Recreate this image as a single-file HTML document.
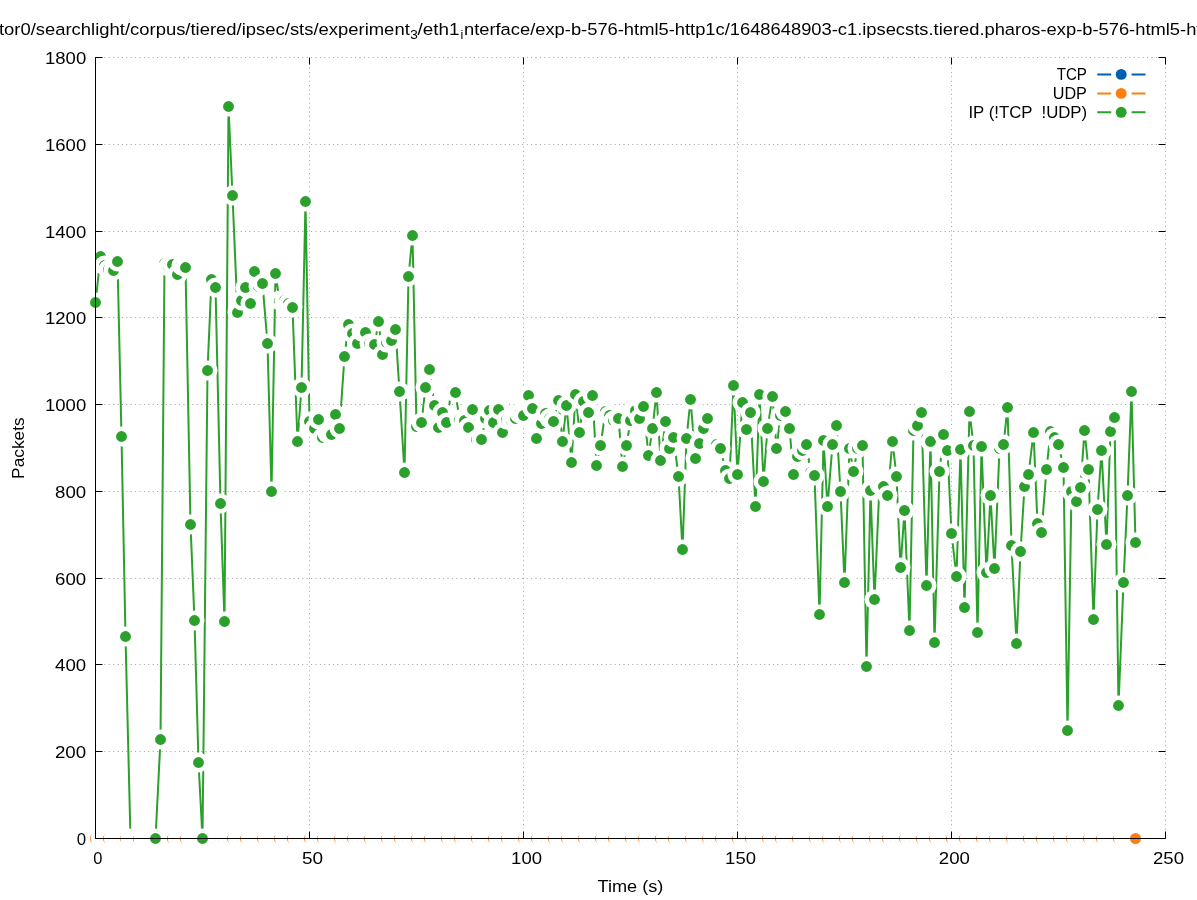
<!DOCTYPE html><html><head><meta charset="utf-8"><title>chart</title><style>html,body{margin:0;padding:0;background:#fff;overflow:hidden}svg{display:block;will-change:transform}text{font-family:"Liberation Sans",sans-serif;fill:#000}</style></head><body><svg width="1197" height="900" viewBox="0 0 1197 900"><rect width="1197" height="900" fill="#fff"/><path d="M95.5 751.5H1165.5 M95.5 664.5H1165.5 M95.5 578.5H1165.5 M95.5 491.5H1165.5 M95.5 404.5H1165.5 M95.5 317.5H1165.5 M95.5 231.5H1165.5 M95.5 144.5H1165.5 M95.5 57.5H1165.5 M309.5 838.5V57.5 M523.5 838.5V57.5 M737.5 838.5V57.5 M951.5 838.5V57.5 M1165.5 838.5V57.5" stroke="#a0a0a0" stroke-width="1" stroke-dasharray="1 3.4" fill="none"/><circle cx="95.5" cy="838.5" r="9.75" fill="#fff"/><circle cx="95.5" cy="838.5" r="5.5" fill="#ff7f0e"/><circle cx="100.5" cy="838.5" r="9.75" fill="#fff"/><circle cx="100.5" cy="838.5" r="5.5" fill="#ff7f0e"/><circle cx="104.5" cy="838.5" r="9.75" fill="#fff"/><circle cx="104.5" cy="838.5" r="5.5" fill="#ff7f0e"/><circle cx="108.5" cy="838.5" r="9.75" fill="#fff"/><circle cx="108.5" cy="838.5" r="5.5" fill="#ff7f0e"/><circle cx="113.5" cy="838.5" r="9.75" fill="#fff"/><circle cx="113.5" cy="838.5" r="5.5" fill="#ff7f0e"/><circle cx="117.5" cy="838.5" r="9.75" fill="#fff"/><circle cx="117.5" cy="838.5" r="5.5" fill="#ff7f0e"/><circle cx="121.5" cy="838.5" r="9.75" fill="#fff"/><circle cx="121.5" cy="838.5" r="5.5" fill="#ff7f0e"/><circle cx="125.5" cy="838.5" r="9.75" fill="#fff"/><circle cx="125.5" cy="838.5" r="5.5" fill="#ff7f0e"/><circle cx="130.5" cy="838.5" r="9.75" fill="#fff"/><circle cx="130.5" cy="838.5" r="5.5" fill="#ff7f0e"/><circle cx="134.5" cy="838.5" r="9.75" fill="#fff"/><circle cx="134.5" cy="838.5" r="5.5" fill="#ff7f0e"/><circle cx="138.5" cy="838.5" r="9.75" fill="#fff"/><circle cx="138.5" cy="838.5" r="5.5" fill="#ff7f0e"/><circle cx="143.5" cy="838.5" r="9.75" fill="#fff"/><circle cx="143.5" cy="838.5" r="5.5" fill="#ff7f0e"/><circle cx="147.5" cy="838.5" r="9.75" fill="#fff"/><circle cx="147.5" cy="838.5" r="5.5" fill="#ff7f0e"/><circle cx="151.5" cy="838.5" r="9.75" fill="#fff"/><circle cx="151.5" cy="838.5" r="5.5" fill="#ff7f0e"/><circle cx="155.5" cy="838.5" r="9.75" fill="#fff"/><circle cx="155.5" cy="838.5" r="5.5" fill="#ff7f0e"/><circle cx="160.5" cy="838.5" r="9.75" fill="#fff"/><circle cx="160.5" cy="838.5" r="5.5" fill="#ff7f0e"/><circle cx="164.5" cy="838.5" r="9.75" fill="#fff"/><circle cx="164.5" cy="838.5" r="5.5" fill="#ff7f0e"/><circle cx="168.5" cy="838.5" r="9.75" fill="#fff"/><circle cx="168.5" cy="838.5" r="5.5" fill="#ff7f0e"/><circle cx="172.5" cy="838.5" r="9.75" fill="#fff"/><circle cx="172.5" cy="838.5" r="5.5" fill="#ff7f0e"/><circle cx="177.5" cy="838.5" r="9.75" fill="#fff"/><circle cx="177.5" cy="838.5" r="5.5" fill="#ff7f0e"/><circle cx="181.5" cy="838.5" r="9.75" fill="#fff"/><circle cx="181.5" cy="838.5" r="5.5" fill="#ff7f0e"/><circle cx="185.5" cy="838.5" r="9.75" fill="#fff"/><circle cx="185.5" cy="838.5" r="5.5" fill="#ff7f0e"/><circle cx="190.5" cy="838.5" r="9.75" fill="#fff"/><circle cx="190.5" cy="838.5" r="5.5" fill="#ff7f0e"/><circle cx="194.5" cy="838.5" r="9.75" fill="#fff"/><circle cx="194.5" cy="838.5" r="5.5" fill="#ff7f0e"/><circle cx="198.5" cy="838.5" r="9.75" fill="#fff"/><circle cx="198.5" cy="838.5" r="5.5" fill="#ff7f0e"/><circle cx="202.5" cy="838.5" r="9.75" fill="#fff"/><circle cx="202.5" cy="838.5" r="5.5" fill="#ff7f0e"/><circle cx="207.5" cy="838.5" r="9.75" fill="#fff"/><circle cx="207.5" cy="838.5" r="5.5" fill="#ff7f0e"/><circle cx="211.5" cy="838.5" r="9.75" fill="#fff"/><circle cx="211.5" cy="838.5" r="5.5" fill="#ff7f0e"/><circle cx="215.5" cy="838.5" r="9.75" fill="#fff"/><circle cx="215.5" cy="838.5" r="5.5" fill="#ff7f0e"/><circle cx="220.5" cy="838.5" r="9.75" fill="#fff"/><circle cx="220.5" cy="838.5" r="5.5" fill="#ff7f0e"/><circle cx="224.5" cy="838.5" r="9.75" fill="#fff"/><circle cx="224.5" cy="838.5" r="5.5" fill="#ff7f0e"/><circle cx="228.5" cy="838.5" r="9.75" fill="#fff"/><circle cx="228.5" cy="838.5" r="5.5" fill="#ff7f0e"/><circle cx="232.5" cy="838.5" r="9.75" fill="#fff"/><circle cx="232.5" cy="838.5" r="5.5" fill="#ff7f0e"/><circle cx="237.5" cy="838.5" r="9.75" fill="#fff"/><circle cx="237.5" cy="838.5" r="5.5" fill="#ff7f0e"/><circle cx="241.5" cy="838.5" r="9.75" fill="#fff"/><circle cx="241.5" cy="838.5" r="5.5" fill="#ff7f0e"/><circle cx="245.5" cy="838.5" r="9.75" fill="#fff"/><circle cx="245.5" cy="838.5" r="5.5" fill="#ff7f0e"/><circle cx="250.5" cy="838.5" r="9.75" fill="#fff"/><circle cx="250.5" cy="838.5" r="5.5" fill="#ff7f0e"/><circle cx="254.5" cy="838.5" r="9.75" fill="#fff"/><circle cx="254.5" cy="838.5" r="5.5" fill="#ff7f0e"/><circle cx="258.5" cy="838.5" r="9.75" fill="#fff"/><circle cx="258.5" cy="838.5" r="5.5" fill="#ff7f0e"/><circle cx="262.5" cy="838.5" r="9.75" fill="#fff"/><circle cx="262.5" cy="838.5" r="5.5" fill="#ff7f0e"/><circle cx="267.5" cy="838.5" r="9.75" fill="#fff"/><circle cx="267.5" cy="838.5" r="5.5" fill="#ff7f0e"/><circle cx="271.5" cy="838.5" r="9.75" fill="#fff"/><circle cx="271.5" cy="838.5" r="5.5" fill="#ff7f0e"/><circle cx="275.5" cy="838.5" r="9.75" fill="#fff"/><circle cx="275.5" cy="838.5" r="5.5" fill="#ff7f0e"/><circle cx="279.5" cy="838.5" r="9.75" fill="#fff"/><circle cx="279.5" cy="838.5" r="5.5" fill="#ff7f0e"/><circle cx="284.5" cy="838.5" r="9.75" fill="#fff"/><circle cx="284.5" cy="838.5" r="5.5" fill="#ff7f0e"/><circle cx="288.5" cy="838.5" r="9.75" fill="#fff"/><circle cx="288.5" cy="838.5" r="5.5" fill="#ff7f0e"/><circle cx="292.5" cy="838.5" r="9.75" fill="#fff"/><circle cx="292.5" cy="838.5" r="5.5" fill="#ff7f0e"/><circle cx="297.5" cy="838.5" r="9.75" fill="#fff"/><circle cx="297.5" cy="838.5" r="5.5" fill="#ff7f0e"/><circle cx="301.5" cy="838.5" r="9.75" fill="#fff"/><circle cx="301.5" cy="838.5" r="5.5" fill="#ff7f0e"/><circle cx="305.5" cy="838.5" r="9.75" fill="#fff"/><circle cx="305.5" cy="838.5" r="5.5" fill="#ff7f0e"/><circle cx="309.5" cy="838.5" r="9.75" fill="#fff"/><circle cx="309.5" cy="838.5" r="5.5" fill="#ff7f0e"/><circle cx="314.5" cy="838.5" r="9.75" fill="#fff"/><circle cx="314.5" cy="838.5" r="5.5" fill="#ff7f0e"/><circle cx="318.5" cy="838.5" r="9.75" fill="#fff"/><circle cx="318.5" cy="838.5" r="5.5" fill="#ff7f0e"/><circle cx="322.5" cy="838.5" r="9.75" fill="#fff"/><circle cx="322.5" cy="838.5" r="5.5" fill="#ff7f0e"/><circle cx="327.5" cy="838.5" r="9.75" fill="#fff"/><circle cx="327.5" cy="838.5" r="5.5" fill="#ff7f0e"/><circle cx="331.5" cy="838.5" r="9.75" fill="#fff"/><circle cx="331.5" cy="838.5" r="5.5" fill="#ff7f0e"/><circle cx="335.5" cy="838.5" r="9.75" fill="#fff"/><circle cx="335.5" cy="838.5" r="5.5" fill="#ff7f0e"/><circle cx="339.5" cy="838.5" r="9.75" fill="#fff"/><circle cx="339.5" cy="838.5" r="5.5" fill="#ff7f0e"/><circle cx="344.5" cy="838.5" r="9.75" fill="#fff"/><circle cx="344.5" cy="838.5" r="5.5" fill="#ff7f0e"/><circle cx="348.5" cy="838.5" r="9.75" fill="#fff"/><circle cx="348.5" cy="838.5" r="5.5" fill="#ff7f0e"/><circle cx="352.5" cy="838.5" r="9.75" fill="#fff"/><circle cx="352.5" cy="838.5" r="5.5" fill="#ff7f0e"/><circle cx="357.5" cy="838.5" r="9.75" fill="#fff"/><circle cx="357.5" cy="838.5" r="5.5" fill="#ff7f0e"/><circle cx="361.5" cy="838.5" r="9.75" fill="#fff"/><circle cx="361.5" cy="838.5" r="5.5" fill="#ff7f0e"/><circle cx="365.5" cy="838.5" r="9.75" fill="#fff"/><circle cx="365.5" cy="838.5" r="5.5" fill="#ff7f0e"/><circle cx="369.5" cy="838.5" r="9.75" fill="#fff"/><circle cx="369.5" cy="838.5" r="5.5" fill="#ff7f0e"/><circle cx="374.5" cy="838.5" r="9.75" fill="#fff"/><circle cx="374.5" cy="838.5" r="5.5" fill="#ff7f0e"/><circle cx="378.5" cy="838.5" r="9.75" fill="#fff"/><circle cx="378.5" cy="838.5" r="5.5" fill="#ff7f0e"/><circle cx="382.5" cy="838.5" r="9.75" fill="#fff"/><circle cx="382.5" cy="838.5" r="5.5" fill="#ff7f0e"/><circle cx="386.5" cy="838.5" r="9.75" fill="#fff"/><circle cx="386.5" cy="838.5" r="5.5" fill="#ff7f0e"/><circle cx="391.5" cy="838.5" r="9.75" fill="#fff"/><circle cx="391.5" cy="838.5" r="5.5" fill="#ff7f0e"/><circle cx="395.5" cy="838.5" r="9.75" fill="#fff"/><circle cx="395.5" cy="838.5" r="5.5" fill="#ff7f0e"/><circle cx="399.5" cy="838.5" r="9.75" fill="#fff"/><circle cx="399.5" cy="838.5" r="5.5" fill="#ff7f0e"/><circle cx="404.5" cy="838.5" r="9.75" fill="#fff"/><circle cx="404.5" cy="838.5" r="5.5" fill="#ff7f0e"/><circle cx="408.5" cy="838.5" r="9.75" fill="#fff"/><circle cx="408.5" cy="838.5" r="5.5" fill="#ff7f0e"/><circle cx="412.5" cy="838.5" r="9.75" fill="#fff"/><circle cx="412.5" cy="838.5" r="5.5" fill="#ff7f0e"/><circle cx="416.5" cy="838.5" r="9.75" fill="#fff"/><circle cx="416.5" cy="838.5" r="5.5" fill="#ff7f0e"/><circle cx="421.5" cy="838.5" r="9.75" fill="#fff"/><circle cx="421.5" cy="838.5" r="5.5" fill="#ff7f0e"/><circle cx="425.5" cy="838.5" r="9.75" fill="#fff"/><circle cx="425.5" cy="838.5" r="5.5" fill="#ff7f0e"/><circle cx="429.5" cy="838.5" r="9.75" fill="#fff"/><circle cx="429.5" cy="838.5" r="5.5" fill="#ff7f0e"/><circle cx="434.5" cy="838.5" r="9.75" fill="#fff"/><circle cx="434.5" cy="838.5" r="5.5" fill="#ff7f0e"/><circle cx="438.5" cy="838.5" r="9.75" fill="#fff"/><circle cx="438.5" cy="838.5" r="5.5" fill="#ff7f0e"/><circle cx="442.5" cy="838.5" r="9.75" fill="#fff"/><circle cx="442.5" cy="838.5" r="5.5" fill="#ff7f0e"/><circle cx="446.5" cy="838.5" r="9.75" fill="#fff"/><circle cx="446.5" cy="838.5" r="5.5" fill="#ff7f0e"/><circle cx="451.5" cy="838.5" r="9.75" fill="#fff"/><circle cx="451.5" cy="838.5" r="5.5" fill="#ff7f0e"/><circle cx="455.5" cy="838.5" r="9.75" fill="#fff"/><circle cx="455.5" cy="838.5" r="5.5" fill="#ff7f0e"/><circle cx="459.5" cy="838.5" r="9.75" fill="#fff"/><circle cx="459.5" cy="838.5" r="5.5" fill="#ff7f0e"/><circle cx="464.5" cy="838.5" r="9.75" fill="#fff"/><circle cx="464.5" cy="838.5" r="5.5" fill="#ff7f0e"/><circle cx="468.5" cy="838.5" r="9.75" fill="#fff"/><circle cx="468.5" cy="838.5" r="5.5" fill="#ff7f0e"/><circle cx="472.5" cy="838.5" r="9.75" fill="#fff"/><circle cx="472.5" cy="838.5" r="5.5" fill="#ff7f0e"/><circle cx="476.5" cy="838.5" r="9.75" fill="#fff"/><circle cx="476.5" cy="838.5" r="5.5" fill="#ff7f0e"/><circle cx="481.5" cy="838.5" r="9.75" fill="#fff"/><circle cx="481.5" cy="838.5" r="5.5" fill="#ff7f0e"/><circle cx="485.5" cy="838.5" r="9.75" fill="#fff"/><circle cx="485.5" cy="838.5" r="5.5" fill="#ff7f0e"/><circle cx="489.5" cy="838.5" r="9.75" fill="#fff"/><circle cx="489.5" cy="838.5" r="5.5" fill="#ff7f0e"/><circle cx="493.5" cy="838.5" r="9.75" fill="#fff"/><circle cx="493.5" cy="838.5" r="5.5" fill="#ff7f0e"/><circle cx="498.5" cy="838.5" r="9.75" fill="#fff"/><circle cx="498.5" cy="838.5" r="5.5" fill="#ff7f0e"/><circle cx="502.5" cy="838.5" r="9.75" fill="#fff"/><circle cx="502.5" cy="838.5" r="5.5" fill="#ff7f0e"/><circle cx="506.5" cy="838.5" r="9.75" fill="#fff"/><circle cx="506.5" cy="838.5" r="5.5" fill="#ff7f0e"/><circle cx="511.5" cy="838.5" r="9.75" fill="#fff"/><circle cx="511.5" cy="838.5" r="5.5" fill="#ff7f0e"/><circle cx="515.5" cy="838.5" r="9.75" fill="#fff"/><circle cx="515.5" cy="838.5" r="5.5" fill="#ff7f0e"/><circle cx="519.5" cy="838.5" r="9.75" fill="#fff"/><circle cx="519.5" cy="838.5" r="5.5" fill="#ff7f0e"/><circle cx="523.5" cy="838.5" r="9.75" fill="#fff"/><circle cx="523.5" cy="838.5" r="5.5" fill="#ff7f0e"/><circle cx="528.5" cy="838.5" r="9.75" fill="#fff"/><circle cx="528.5" cy="838.5" r="5.5" fill="#ff7f0e"/><circle cx="532.5" cy="838.5" r="9.75" fill="#fff"/><circle cx="532.5" cy="838.5" r="5.5" fill="#ff7f0e"/><circle cx="536.5" cy="838.5" r="9.75" fill="#fff"/><circle cx="536.5" cy="838.5" r="5.5" fill="#ff7f0e"/><circle cx="541.5" cy="838.5" r="9.75" fill="#fff"/><circle cx="541.5" cy="838.5" r="5.5" fill="#ff7f0e"/><circle cx="545.5" cy="838.5" r="9.75" fill="#fff"/><circle cx="545.5" cy="838.5" r="5.5" fill="#ff7f0e"/><circle cx="549.5" cy="838.5" r="9.75" fill="#fff"/><circle cx="549.5" cy="838.5" r="5.5" fill="#ff7f0e"/><circle cx="553.5" cy="838.5" r="9.75" fill="#fff"/><circle cx="553.5" cy="838.5" r="5.5" fill="#ff7f0e"/><circle cx="558.5" cy="838.5" r="9.75" fill="#fff"/><circle cx="558.5" cy="838.5" r="5.5" fill="#ff7f0e"/><circle cx="562.5" cy="838.5" r="9.75" fill="#fff"/><circle cx="562.5" cy="838.5" r="5.5" fill="#ff7f0e"/><circle cx="566.5" cy="838.5" r="9.75" fill="#fff"/><circle cx="566.5" cy="838.5" r="5.5" fill="#ff7f0e"/><circle cx="571.5" cy="838.5" r="9.75" fill="#fff"/><circle cx="571.5" cy="838.5" r="5.5" fill="#ff7f0e"/><circle cx="575.5" cy="838.5" r="9.75" fill="#fff"/><circle cx="575.5" cy="838.5" r="5.5" fill="#ff7f0e"/><circle cx="579.5" cy="838.5" r="9.75" fill="#fff"/><circle cx="579.5" cy="838.5" r="5.5" fill="#ff7f0e"/><circle cx="583.5" cy="838.5" r="9.75" fill="#fff"/><circle cx="583.5" cy="838.5" r="5.5" fill="#ff7f0e"/><circle cx="588.5" cy="838.5" r="9.75" fill="#fff"/><circle cx="588.5" cy="838.5" r="5.5" fill="#ff7f0e"/><circle cx="592.5" cy="838.5" r="9.75" fill="#fff"/><circle cx="592.5" cy="838.5" r="5.5" fill="#ff7f0e"/><circle cx="596.5" cy="838.5" r="9.75" fill="#fff"/><circle cx="596.5" cy="838.5" r="5.5" fill="#ff7f0e"/><circle cx="600.5" cy="838.5" r="9.75" fill="#fff"/><circle cx="600.5" cy="838.5" r="5.5" fill="#ff7f0e"/><circle cx="605.5" cy="838.5" r="9.75" fill="#fff"/><circle cx="605.5" cy="838.5" r="5.5" fill="#ff7f0e"/><circle cx="609.5" cy="838.5" r="9.75" fill="#fff"/><circle cx="609.5" cy="838.5" r="5.5" fill="#ff7f0e"/><circle cx="613.5" cy="838.5" r="9.75" fill="#fff"/><circle cx="613.5" cy="838.5" r="5.5" fill="#ff7f0e"/><circle cx="618.5" cy="838.5" r="9.75" fill="#fff"/><circle cx="618.5" cy="838.5" r="5.5" fill="#ff7f0e"/><circle cx="622.5" cy="838.5" r="9.75" fill="#fff"/><circle cx="622.5" cy="838.5" r="5.5" fill="#ff7f0e"/><circle cx="626.5" cy="838.5" r="9.75" fill="#fff"/><circle cx="626.5" cy="838.5" r="5.5" fill="#ff7f0e"/><circle cx="630.5" cy="838.5" r="9.75" fill="#fff"/><circle cx="630.5" cy="838.5" r="5.5" fill="#ff7f0e"/><circle cx="635.5" cy="838.5" r="9.75" fill="#fff"/><circle cx="635.5" cy="838.5" r="5.5" fill="#ff7f0e"/><circle cx="639.5" cy="838.5" r="9.75" fill="#fff"/><circle cx="639.5" cy="838.5" r="5.5" fill="#ff7f0e"/><circle cx="643.5" cy="838.5" r="9.75" fill="#fff"/><circle cx="643.5" cy="838.5" r="5.5" fill="#ff7f0e"/><circle cx="648.5" cy="838.5" r="9.75" fill="#fff"/><circle cx="648.5" cy="838.5" r="5.5" fill="#ff7f0e"/><circle cx="652.5" cy="838.5" r="9.75" fill="#fff"/><circle cx="652.5" cy="838.5" r="5.5" fill="#ff7f0e"/><circle cx="656.5" cy="838.5" r="9.75" fill="#fff"/><circle cx="656.5" cy="838.5" r="5.5" fill="#ff7f0e"/><circle cx="660.5" cy="838.5" r="9.75" fill="#fff"/><circle cx="660.5" cy="838.5" r="5.5" fill="#ff7f0e"/><circle cx="665.5" cy="838.5" r="9.75" fill="#fff"/><circle cx="665.5" cy="838.5" r="5.5" fill="#ff7f0e"/><circle cx="669.5" cy="838.5" r="9.75" fill="#fff"/><circle cx="669.5" cy="838.5" r="5.5" fill="#ff7f0e"/><circle cx="673.5" cy="838.5" r="9.75" fill="#fff"/><circle cx="673.5" cy="838.5" r="5.5" fill="#ff7f0e"/><circle cx="678.5" cy="838.5" r="9.75" fill="#fff"/><circle cx="678.5" cy="838.5" r="5.5" fill="#ff7f0e"/><circle cx="682.5" cy="838.5" r="9.75" fill="#fff"/><circle cx="682.5" cy="838.5" r="5.5" fill="#ff7f0e"/><circle cx="686.5" cy="838.5" r="9.75" fill="#fff"/><circle cx="686.5" cy="838.5" r="5.5" fill="#ff7f0e"/><circle cx="690.5" cy="838.5" r="9.75" fill="#fff"/><circle cx="690.5" cy="838.5" r="5.5" fill="#ff7f0e"/><circle cx="695.5" cy="838.5" r="9.75" fill="#fff"/><circle cx="695.5" cy="838.5" r="5.5" fill="#ff7f0e"/><circle cx="699.5" cy="838.5" r="9.75" fill="#fff"/><circle cx="699.5" cy="838.5" r="5.5" fill="#ff7f0e"/><circle cx="703.5" cy="838.5" r="9.75" fill="#fff"/><circle cx="703.5" cy="838.5" r="5.5" fill="#ff7f0e"/><circle cx="707.5" cy="838.5" r="9.75" fill="#fff"/><circle cx="707.5" cy="838.5" r="5.5" fill="#ff7f0e"/><circle cx="712.5" cy="838.5" r="9.75" fill="#fff"/><circle cx="712.5" cy="838.5" r="5.5" fill="#ff7f0e"/><circle cx="716.5" cy="838.5" r="9.75" fill="#fff"/><circle cx="716.5" cy="838.5" r="5.5" fill="#ff7f0e"/><circle cx="720.5" cy="838.5" r="9.75" fill="#fff"/><circle cx="720.5" cy="838.5" r="5.5" fill="#ff7f0e"/><circle cx="725.5" cy="838.5" r="9.75" fill="#fff"/><circle cx="725.5" cy="838.5" r="5.5" fill="#ff7f0e"/><circle cx="729.5" cy="838.5" r="9.75" fill="#fff"/><circle cx="729.5" cy="838.5" r="5.5" fill="#ff7f0e"/><circle cx="733.5" cy="838.5" r="9.75" fill="#fff"/><circle cx="733.5" cy="838.5" r="5.5" fill="#ff7f0e"/><circle cx="737.5" cy="838.5" r="9.75" fill="#fff"/><circle cx="737.5" cy="838.5" r="5.5" fill="#ff7f0e"/><circle cx="742.5" cy="838.5" r="9.75" fill="#fff"/><circle cx="742.5" cy="838.5" r="5.5" fill="#ff7f0e"/><circle cx="746.5" cy="838.5" r="9.75" fill="#fff"/><circle cx="746.5" cy="838.5" r="5.5" fill="#ff7f0e"/><circle cx="750.5" cy="838.5" r="9.75" fill="#fff"/><circle cx="750.5" cy="838.5" r="5.5" fill="#ff7f0e"/><circle cx="755.5" cy="838.5" r="9.75" fill="#fff"/><circle cx="755.5" cy="838.5" r="5.5" fill="#ff7f0e"/><circle cx="759.5" cy="838.5" r="9.75" fill="#fff"/><circle cx="759.5" cy="838.5" r="5.5" fill="#ff7f0e"/><circle cx="763.5" cy="838.5" r="9.75" fill="#fff"/><circle cx="763.5" cy="838.5" r="5.5" fill="#ff7f0e"/><circle cx="767.5" cy="838.5" r="9.75" fill="#fff"/><circle cx="767.5" cy="838.5" r="5.5" fill="#ff7f0e"/><circle cx="772.5" cy="838.5" r="9.75" fill="#fff"/><circle cx="772.5" cy="838.5" r="5.5" fill="#ff7f0e"/><circle cx="776.5" cy="838.5" r="9.75" fill="#fff"/><circle cx="776.5" cy="838.5" r="5.5" fill="#ff7f0e"/><circle cx="780.5" cy="838.5" r="9.75" fill="#fff"/><circle cx="780.5" cy="838.5" r="5.5" fill="#ff7f0e"/><circle cx="785.5" cy="838.5" r="9.75" fill="#fff"/><circle cx="785.5" cy="838.5" r="5.5" fill="#ff7f0e"/><circle cx="789.5" cy="838.5" r="9.75" fill="#fff"/><circle cx="789.5" cy="838.5" r="5.5" fill="#ff7f0e"/><circle cx="793.5" cy="838.5" r="9.75" fill="#fff"/><circle cx="793.5" cy="838.5" r="5.5" fill="#ff7f0e"/><circle cx="797.5" cy="838.5" r="9.75" fill="#fff"/><circle cx="797.5" cy="838.5" r="5.5" fill="#ff7f0e"/><circle cx="802.5" cy="838.5" r="9.75" fill="#fff"/><circle cx="802.5" cy="838.5" r="5.5" fill="#ff7f0e"/><circle cx="806.5" cy="838.5" r="9.75" fill="#fff"/><circle cx="806.5" cy="838.5" r="5.5" fill="#ff7f0e"/><circle cx="810.5" cy="838.5" r="9.75" fill="#fff"/><circle cx="810.5" cy="838.5" r="5.5" fill="#ff7f0e"/><circle cx="814.5" cy="838.5" r="9.75" fill="#fff"/><circle cx="814.5" cy="838.5" r="5.5" fill="#ff7f0e"/><circle cx="819.5" cy="838.5" r="9.75" fill="#fff"/><circle cx="819.5" cy="838.5" r="5.5" fill="#ff7f0e"/><circle cx="823.5" cy="838.5" r="9.75" fill="#fff"/><circle cx="823.5" cy="838.5" r="5.5" fill="#ff7f0e"/><circle cx="827.5" cy="838.5" r="9.75" fill="#fff"/><circle cx="827.5" cy="838.5" r="5.5" fill="#ff7f0e"/><circle cx="832.5" cy="838.5" r="9.75" fill="#fff"/><circle cx="832.5" cy="838.5" r="5.5" fill="#ff7f0e"/><circle cx="836.5" cy="838.5" r="9.75" fill="#fff"/><circle cx="836.5" cy="838.5" r="5.5" fill="#ff7f0e"/><circle cx="840.5" cy="838.5" r="9.75" fill="#fff"/><circle cx="840.5" cy="838.5" r="5.5" fill="#ff7f0e"/><circle cx="844.5" cy="838.5" r="9.75" fill="#fff"/><circle cx="844.5" cy="838.5" r="5.5" fill="#ff7f0e"/><circle cx="849.5" cy="838.5" r="9.75" fill="#fff"/><circle cx="849.5" cy="838.5" r="5.5" fill="#ff7f0e"/><circle cx="853.5" cy="838.5" r="9.75" fill="#fff"/><circle cx="853.5" cy="838.5" r="5.5" fill="#ff7f0e"/><circle cx="857.5" cy="838.5" r="9.75" fill="#fff"/><circle cx="857.5" cy="838.5" r="5.5" fill="#ff7f0e"/><circle cx="862.5" cy="838.5" r="9.75" fill="#fff"/><circle cx="862.5" cy="838.5" r="5.5" fill="#ff7f0e"/><circle cx="866.5" cy="838.5" r="9.75" fill="#fff"/><circle cx="866.5" cy="838.5" r="5.5" fill="#ff7f0e"/><circle cx="870.5" cy="838.5" r="9.75" fill="#fff"/><circle cx="870.5" cy="838.5" r="5.5" fill="#ff7f0e"/><circle cx="874.5" cy="838.5" r="9.75" fill="#fff"/><circle cx="874.5" cy="838.5" r="5.5" fill="#ff7f0e"/><circle cx="879.5" cy="838.5" r="9.75" fill="#fff"/><circle cx="879.5" cy="838.5" r="5.5" fill="#ff7f0e"/><circle cx="883.5" cy="838.5" r="9.75" fill="#fff"/><circle cx="883.5" cy="838.5" r="5.5" fill="#ff7f0e"/><circle cx="887.5" cy="838.5" r="9.75" fill="#fff"/><circle cx="887.5" cy="838.5" r="5.5" fill="#ff7f0e"/><circle cx="892.5" cy="838.5" r="9.75" fill="#fff"/><circle cx="892.5" cy="838.5" r="5.5" fill="#ff7f0e"/><circle cx="896.5" cy="838.5" r="9.75" fill="#fff"/><circle cx="896.5" cy="838.5" r="5.5" fill="#ff7f0e"/><circle cx="900.5" cy="838.5" r="9.75" fill="#fff"/><circle cx="900.5" cy="838.5" r="5.5" fill="#ff7f0e"/><circle cx="904.5" cy="838.5" r="9.75" fill="#fff"/><circle cx="904.5" cy="838.5" r="5.5" fill="#ff7f0e"/><circle cx="909.5" cy="838.5" r="9.75" fill="#fff"/><circle cx="909.5" cy="838.5" r="5.5" fill="#ff7f0e"/><circle cx="913.5" cy="838.5" r="9.75" fill="#fff"/><circle cx="913.5" cy="838.5" r="5.5" fill="#ff7f0e"/><circle cx="917.5" cy="838.5" r="9.75" fill="#fff"/><circle cx="917.5" cy="838.5" r="5.5" fill="#ff7f0e"/><circle cx="921.5" cy="838.5" r="9.75" fill="#fff"/><circle cx="921.5" cy="838.5" r="5.5" fill="#ff7f0e"/><circle cx="926.5" cy="838.5" r="9.75" fill="#fff"/><circle cx="926.5" cy="838.5" r="5.5" fill="#ff7f0e"/><circle cx="930.5" cy="838.5" r="9.75" fill="#fff"/><circle cx="930.5" cy="838.5" r="5.5" fill="#ff7f0e"/><circle cx="934.5" cy="838.5" r="9.75" fill="#fff"/><circle cx="934.5" cy="838.5" r="5.5" fill="#ff7f0e"/><circle cx="939.5" cy="838.5" r="9.75" fill="#fff"/><circle cx="939.5" cy="838.5" r="5.5" fill="#ff7f0e"/><circle cx="943.5" cy="838.5" r="9.75" fill="#fff"/><circle cx="943.5" cy="838.5" r="5.5" fill="#ff7f0e"/><circle cx="947.5" cy="838.5" r="9.75" fill="#fff"/><circle cx="947.5" cy="838.5" r="5.5" fill="#ff7f0e"/><circle cx="951.5" cy="838.5" r="9.75" fill="#fff"/><circle cx="951.5" cy="838.5" r="5.5" fill="#ff7f0e"/><circle cx="956.5" cy="838.5" r="9.75" fill="#fff"/><circle cx="956.5" cy="838.5" r="5.5" fill="#ff7f0e"/><circle cx="960.5" cy="838.5" r="9.75" fill="#fff"/><circle cx="960.5" cy="838.5" r="5.5" fill="#ff7f0e"/><circle cx="964.5" cy="838.5" r="9.75" fill="#fff"/><circle cx="964.5" cy="838.5" r="5.5" fill="#ff7f0e"/><circle cx="969.5" cy="838.5" r="9.75" fill="#fff"/><circle cx="969.5" cy="838.5" r="5.5" fill="#ff7f0e"/><circle cx="973.5" cy="838.5" r="9.75" fill="#fff"/><circle cx="973.5" cy="838.5" r="5.5" fill="#ff7f0e"/><circle cx="977.5" cy="838.5" r="9.75" fill="#fff"/><circle cx="977.5" cy="838.5" r="5.5" fill="#ff7f0e"/><circle cx="981.5" cy="838.5" r="9.75" fill="#fff"/><circle cx="981.5" cy="838.5" r="5.5" fill="#ff7f0e"/><circle cx="986.5" cy="838.5" r="9.75" fill="#fff"/><circle cx="986.5" cy="838.5" r="5.5" fill="#ff7f0e"/><circle cx="990.5" cy="838.5" r="9.75" fill="#fff"/><circle cx="990.5" cy="838.5" r="5.5" fill="#ff7f0e"/><circle cx="994.5" cy="838.5" r="9.75" fill="#fff"/><circle cx="994.5" cy="838.5" r="5.5" fill="#ff7f0e"/><circle cx="999.5" cy="838.5" r="9.75" fill="#fff"/><circle cx="999.5" cy="838.5" r="5.5" fill="#ff7f0e"/><circle cx="1003.5" cy="838.5" r="9.75" fill="#fff"/><circle cx="1003.5" cy="838.5" r="5.5" fill="#ff7f0e"/><circle cx="1007.5" cy="838.5" r="9.75" fill="#fff"/><circle cx="1007.5" cy="838.5" r="5.5" fill="#ff7f0e"/><circle cx="1011.5" cy="838.5" r="9.75" fill="#fff"/><circle cx="1011.5" cy="838.5" r="5.5" fill="#ff7f0e"/><circle cx="1016.5" cy="838.5" r="9.75" fill="#fff"/><circle cx="1016.5" cy="838.5" r="5.5" fill="#ff7f0e"/><circle cx="1020.5" cy="838.5" r="9.75" fill="#fff"/><circle cx="1020.5" cy="838.5" r="5.5" fill="#ff7f0e"/><circle cx="1024.5" cy="838.5" r="9.75" fill="#fff"/><circle cx="1024.5" cy="838.5" r="5.5" fill="#ff7f0e"/><circle cx="1028.5" cy="838.5" r="9.75" fill="#fff"/><circle cx="1028.5" cy="838.5" r="5.5" fill="#ff7f0e"/><circle cx="1033.5" cy="838.5" r="9.75" fill="#fff"/><circle cx="1033.5" cy="838.5" r="5.5" fill="#ff7f0e"/><circle cx="1037.5" cy="838.5" r="9.75" fill="#fff"/><circle cx="1037.5" cy="838.5" r="5.5" fill="#ff7f0e"/><circle cx="1041.5" cy="838.5" r="9.75" fill="#fff"/><circle cx="1041.5" cy="838.5" r="5.5" fill="#ff7f0e"/><circle cx="1046.5" cy="838.5" r="9.75" fill="#fff"/><circle cx="1046.5" cy="838.5" r="5.5" fill="#ff7f0e"/><circle cx="1050.5" cy="838.5" r="9.75" fill="#fff"/><circle cx="1050.5" cy="838.5" r="5.5" fill="#ff7f0e"/><circle cx="1054.5" cy="838.5" r="9.75" fill="#fff"/><circle cx="1054.5" cy="838.5" r="5.5" fill="#ff7f0e"/><circle cx="1058.5" cy="838.5" r="9.75" fill="#fff"/><circle cx="1058.5" cy="838.5" r="5.5" fill="#ff7f0e"/><circle cx="1063.5" cy="838.5" r="9.75" fill="#fff"/><circle cx="1063.5" cy="838.5" r="5.5" fill="#ff7f0e"/><circle cx="1067.5" cy="838.5" r="9.75" fill="#fff"/><circle cx="1067.5" cy="838.5" r="5.5" fill="#ff7f0e"/><circle cx="1071.5" cy="838.5" r="9.75" fill="#fff"/><circle cx="1071.5" cy="838.5" r="5.5" fill="#ff7f0e"/><circle cx="1076.5" cy="838.5" r="9.75" fill="#fff"/><circle cx="1076.5" cy="838.5" r="5.5" fill="#ff7f0e"/><circle cx="1080.5" cy="838.5" r="9.75" fill="#fff"/><circle cx="1080.5" cy="838.5" r="5.5" fill="#ff7f0e"/><circle cx="1084.5" cy="838.5" r="9.75" fill="#fff"/><circle cx="1084.5" cy="838.5" r="5.5" fill="#ff7f0e"/><circle cx="1088.5" cy="838.5" r="9.75" fill="#fff"/><circle cx="1088.5" cy="838.5" r="5.5" fill="#ff7f0e"/><circle cx="1093.5" cy="838.5" r="9.75" fill="#fff"/><circle cx="1093.5" cy="838.5" r="5.5" fill="#ff7f0e"/><circle cx="1097.5" cy="838.5" r="9.75" fill="#fff"/><circle cx="1097.5" cy="838.5" r="5.5" fill="#ff7f0e"/><circle cx="1101.5" cy="838.5" r="9.75" fill="#fff"/><circle cx="1101.5" cy="838.5" r="5.5" fill="#ff7f0e"/><circle cx="1106.5" cy="838.5" r="9.75" fill="#fff"/><circle cx="1106.5" cy="838.5" r="5.5" fill="#ff7f0e"/><circle cx="1110.5" cy="838.5" r="9.75" fill="#fff"/><circle cx="1110.5" cy="838.5" r="5.5" fill="#ff7f0e"/><circle cx="1114.5" cy="838.5" r="9.75" fill="#fff"/><circle cx="1114.5" cy="838.5" r="5.5" fill="#ff7f0e"/><circle cx="1118.5" cy="838.5" r="9.75" fill="#fff"/><circle cx="1118.5" cy="838.5" r="5.5" fill="#ff7f0e"/><circle cx="1123.5" cy="838.5" r="9.75" fill="#fff"/><circle cx="1123.5" cy="838.5" r="5.5" fill="#ff7f0e"/><circle cx="1127.5" cy="838.5" r="9.75" fill="#fff"/><circle cx="1127.5" cy="838.5" r="5.5" fill="#ff7f0e"/><circle cx="1131.5" cy="838.5" r="9.75" fill="#fff"/><circle cx="1131.5" cy="838.5" r="5.5" fill="#ff7f0e"/><circle cx="1135.5" cy="838.5" r="9.75" fill="#fff"/><circle cx="1135.5" cy="838.5" r="5.5" fill="#ff7f0e"/><path d="M95.50 302.50 L100.50 256.50 L104.50 265.50 L108.50 269.50 L113.50 270.50 L117.50 261.50 L121.50 436.50 L125.50 636.50 L130.50 838.50 L134.50 838.50 L138.50 838.50 L143.50 838.50 L147.50 838.50 L151.50 838.50 L155.50 838.50 L160.50 739.50 L164.50 263.50 L168.50 266.50 L172.50 264.50 L177.50 274.50 L181.50 265.50 L185.50 267.50 L190.50 524.50 L194.50 620.50 L198.50 762.50 L202.50 838.50 L207.50 370.50 L211.50 279.50 L215.50 287.50 L220.50 503.50 L224.50 621.50 L228.50 106.50 L232.50 195.50 L237.50 312.50 L241.50 300.50 L245.50 287.50 L250.50 303.50 L254.50 271.50 L258.50 286.50 L262.50 283.50 L267.50 343.50 L271.50 491.50 L275.50 273.50 L279.50 300.50 L284.50 300.50 L288.50 303.50 L292.50 307.50 L297.50 441.50 L301.50 387.50 L305.50 201.50 L309.50 421.50 L314.50 428.50 L318.50 419.50 L322.50 437.50 L327.50 433.50 L331.50 434.50 L335.50 414.50 L339.50 428.50 L344.50 356.50 L348.50 324.50 L352.50 333.50 L357.50 343.50 L361.50 331.50 L365.50 332.50 L369.50 343.50 L374.50 344.50 L378.50 321.50 L382.50 354.50 L386.50 342.50 L391.50 340.50 L395.50 329.50 L399.50 391.50 L404.50 472.50 L408.50 276.50 L412.50 235.50 L416.50 426.50 L421.50 422.50 L425.50 387.50 L429.50 369.50 L434.50 405.50 L438.50 427.50 L442.50 412.50 L446.50 422.50 L451.50 390.50 L455.50 392.50 L459.50 419.50 L464.50 420.50 L468.50 427.50 L472.50 409.50 L476.50 439.50 L481.50 439.50 L485.50 418.50 L489.50 410.50 L493.50 422.50 L498.50 409.50 L502.50 432.50 L506.50 419.50 L511.50 420.50 L515.50 418.50 L519.50 413.50 L523.50 415.50 L528.50 395.50 L532.50 408.50 L536.50 438.50 L541.50 423.50 L545.50 413.50 L549.50 418.50 L553.50 421.50 L558.50 400.50 L562.50 441.50 L566.50 405.50 L571.50 462.50 L575.50 394.50 L579.50 432.50 L583.50 401.50 L588.50 412.50 L592.50 395.50 L596.50 465.50 L600.50 445.50 L605.50 411.50 L609.50 415.50 L613.50 420.50 L618.50 418.50 L622.50 466.50 L626.50 445.50 L630.50 420.50 L635.50 410.50 L639.50 418.50 L643.50 406.50 L648.50 455.50 L652.50 428.50 L656.50 392.50 L660.50 460.50 L665.50 421.50 L669.50 448.50 L673.50 437.50 L678.50 476.50 L682.50 549.50 L686.50 438.50 L690.50 399.50 L695.50 458.50 L699.50 443.50 L703.50 428.50 L707.50 418.50 L712.50 444.50 L716.50 444.50 L720.50 448.50 L725.50 470.50 L729.50 478.50 L733.50 385.50 L737.50 474.50 L742.50 402.50 L746.50 429.50 L750.50 412.50 L755.50 506.50 L759.50 394.50 L763.50 481.50 L767.50 428.50 L772.50 396.50 L776.50 448.50 L780.50 415.50 L785.50 411.50 L789.50 428.50 L793.50 474.50 L797.50 456.50 L802.50 450.50 L806.50 444.50 L810.50 472.50 L814.50 475.50 L819.50 614.50 L823.50 440.50 L827.50 506.50 L832.50 444.50 L836.50 425.50 L840.50 491.50 L844.50 582.50 L849.50 448.50 L853.50 471.50 L857.50 448.50 L862.50 445.50 L866.50 666.50 L870.50 490.50 L874.50 599.50 L879.50 484.50 L883.50 486.50 L887.50 495.50 L892.50 441.50 L896.50 476.50 L900.50 567.50 L904.50 510.50 L909.50 630.50 L913.50 430.50 L917.50 425.50 L921.50 412.50 L926.50 585.50 L930.50 441.50 L934.50 642.50 L939.50 471.50 L943.50 434.50 L947.50 450.50 L951.50 533.50 L956.50 576.50 L960.50 449.50 L964.50 607.50 L969.50 411.50 L973.50 445.50 L977.50 632.50 L981.50 446.50 L986.50 572.50 L990.50 495.50 L994.50 568.50 L999.50 448.50 L1003.50 444.50 L1007.50 407.50 L1011.50 545.50 L1016.50 643.50 L1020.50 551.50 L1024.50 486.50 L1028.50 474.50 L1033.50 432.50 L1037.50 523.50 L1041.50 532.50 L1046.50 469.50 L1050.50 431.50 L1054.50 437.50 L1058.50 444.50 L1063.50 467.50 L1067.50 730.50 L1071.50 491.50 L1076.50 501.50 L1080.50 487.50 L1084.50 430.50 L1088.50 469.50 L1093.50 619.50 L1097.50 509.50 L1101.50 450.50 L1106.50 544.50 L1110.50 431.50 L1114.50 417.50 L1118.50 705.50 L1123.50 582.50 L1127.50 495.50 L1131.50 391.50 L1135.50 542.50" stroke="#2ca02c" stroke-width="2" fill="none" stroke-linejoin="round" stroke-linecap="round"/><circle cx="95.50" cy="302.50" r="10.0" fill="#fff"/><circle cx="95.50" cy="302.50" r="5.45" fill="#2ca02c"/><circle cx="100.50" cy="256.50" r="10.0" fill="#fff"/><circle cx="100.50" cy="256.50" r="5.45" fill="#2ca02c"/><circle cx="104.50" cy="265.50" r="10.0" fill="#fff"/><circle cx="104.50" cy="265.50" r="5.45" fill="#2ca02c"/><circle cx="108.50" cy="269.50" r="10.0" fill="#fff"/><circle cx="108.50" cy="269.50" r="5.45" fill="#2ca02c"/><circle cx="113.50" cy="270.50" r="10.0" fill="#fff"/><circle cx="113.50" cy="270.50" r="5.45" fill="#2ca02c"/><circle cx="117.50" cy="261.50" r="10.0" fill="#fff"/><circle cx="117.50" cy="261.50" r="5.45" fill="#2ca02c"/><circle cx="121.50" cy="436.50" r="10.0" fill="#fff"/><circle cx="121.50" cy="436.50" r="5.45" fill="#2ca02c"/><circle cx="125.50" cy="636.50" r="10.0" fill="#fff"/><circle cx="125.50" cy="636.50" r="5.45" fill="#2ca02c"/><circle cx="130.50" cy="838.50" r="10.0" fill="#fff"/><circle cx="130.50" cy="838.50" r="5.45" fill="#2ca02c"/><circle cx="134.50" cy="838.50" r="10.0" fill="#fff"/><circle cx="134.50" cy="838.50" r="5.45" fill="#2ca02c"/><circle cx="138.50" cy="838.50" r="10.0" fill="#fff"/><circle cx="138.50" cy="838.50" r="5.45" fill="#2ca02c"/><circle cx="143.50" cy="838.50" r="10.0" fill="#fff"/><circle cx="143.50" cy="838.50" r="5.45" fill="#2ca02c"/><circle cx="147.50" cy="838.50" r="10.0" fill="#fff"/><circle cx="147.50" cy="838.50" r="5.45" fill="#2ca02c"/><circle cx="151.50" cy="838.50" r="10.0" fill="#fff"/><circle cx="151.50" cy="838.50" r="5.45" fill="#2ca02c"/><circle cx="155.50" cy="838.50" r="10.0" fill="#fff"/><circle cx="155.50" cy="838.50" r="5.45" fill="#2ca02c"/><circle cx="160.50" cy="739.50" r="10.0" fill="#fff"/><circle cx="160.50" cy="739.50" r="5.45" fill="#2ca02c"/><circle cx="164.50" cy="263.50" r="10.0" fill="#fff"/><circle cx="164.50" cy="263.50" r="5.45" fill="#2ca02c"/><circle cx="168.50" cy="266.50" r="10.0" fill="#fff"/><circle cx="168.50" cy="266.50" r="5.45" fill="#2ca02c"/><circle cx="172.50" cy="264.50" r="10.0" fill="#fff"/><circle cx="172.50" cy="264.50" r="5.45" fill="#2ca02c"/><circle cx="177.50" cy="274.50" r="10.0" fill="#fff"/><circle cx="177.50" cy="274.50" r="5.45" fill="#2ca02c"/><circle cx="181.50" cy="265.50" r="10.0" fill="#fff"/><circle cx="181.50" cy="265.50" r="5.45" fill="#2ca02c"/><circle cx="185.50" cy="267.50" r="10.0" fill="#fff"/><circle cx="185.50" cy="267.50" r="5.45" fill="#2ca02c"/><circle cx="190.50" cy="524.50" r="10.0" fill="#fff"/><circle cx="190.50" cy="524.50" r="5.45" fill="#2ca02c"/><circle cx="194.50" cy="620.50" r="10.0" fill="#fff"/><circle cx="194.50" cy="620.50" r="5.45" fill="#2ca02c"/><circle cx="198.50" cy="762.50" r="10.0" fill="#fff"/><circle cx="198.50" cy="762.50" r="5.45" fill="#2ca02c"/><circle cx="202.50" cy="838.50" r="10.0" fill="#fff"/><circle cx="202.50" cy="838.50" r="5.45" fill="#2ca02c"/><circle cx="207.50" cy="370.50" r="10.0" fill="#fff"/><circle cx="207.50" cy="370.50" r="5.45" fill="#2ca02c"/><circle cx="211.50" cy="279.50" r="10.0" fill="#fff"/><circle cx="211.50" cy="279.50" r="5.45" fill="#2ca02c"/><circle cx="215.50" cy="287.50" r="10.0" fill="#fff"/><circle cx="215.50" cy="287.50" r="5.45" fill="#2ca02c"/><circle cx="220.50" cy="503.50" r="10.0" fill="#fff"/><circle cx="220.50" cy="503.50" r="5.45" fill="#2ca02c"/><circle cx="224.50" cy="621.50" r="10.0" fill="#fff"/><circle cx="224.50" cy="621.50" r="5.45" fill="#2ca02c"/><circle cx="228.50" cy="106.50" r="10.0" fill="#fff"/><circle cx="228.50" cy="106.50" r="5.45" fill="#2ca02c"/><circle cx="232.50" cy="195.50" r="10.0" fill="#fff"/><circle cx="232.50" cy="195.50" r="5.45" fill="#2ca02c"/><circle cx="237.50" cy="312.50" r="10.0" fill="#fff"/><circle cx="237.50" cy="312.50" r="5.45" fill="#2ca02c"/><circle cx="241.50" cy="300.50" r="10.0" fill="#fff"/><circle cx="241.50" cy="300.50" r="5.45" fill="#2ca02c"/><circle cx="245.50" cy="287.50" r="10.0" fill="#fff"/><circle cx="245.50" cy="287.50" r="5.45" fill="#2ca02c"/><circle cx="250.50" cy="303.50" r="10.0" fill="#fff"/><circle cx="250.50" cy="303.50" r="5.45" fill="#2ca02c"/><circle cx="254.50" cy="271.50" r="10.0" fill="#fff"/><circle cx="254.50" cy="271.50" r="5.45" fill="#2ca02c"/><circle cx="258.50" cy="286.50" r="10.0" fill="#fff"/><circle cx="258.50" cy="286.50" r="5.45" fill="#2ca02c"/><circle cx="262.50" cy="283.50" r="10.0" fill="#fff"/><circle cx="262.50" cy="283.50" r="5.45" fill="#2ca02c"/><circle cx="267.50" cy="343.50" r="10.0" fill="#fff"/><circle cx="267.50" cy="343.50" r="5.45" fill="#2ca02c"/><circle cx="271.50" cy="491.50" r="10.0" fill="#fff"/><circle cx="271.50" cy="491.50" r="5.45" fill="#2ca02c"/><circle cx="275.50" cy="273.50" r="10.0" fill="#fff"/><circle cx="275.50" cy="273.50" r="5.45" fill="#2ca02c"/><circle cx="279.50" cy="300.50" r="10.0" fill="#fff"/><circle cx="279.50" cy="300.50" r="5.45" fill="#2ca02c"/><circle cx="284.50" cy="300.50" r="10.0" fill="#fff"/><circle cx="284.50" cy="300.50" r="5.45" fill="#2ca02c"/><circle cx="288.50" cy="303.50" r="10.0" fill="#fff"/><circle cx="288.50" cy="303.50" r="5.45" fill="#2ca02c"/><circle cx="292.50" cy="307.50" r="10.0" fill="#fff"/><circle cx="292.50" cy="307.50" r="5.45" fill="#2ca02c"/><circle cx="297.50" cy="441.50" r="10.0" fill="#fff"/><circle cx="297.50" cy="441.50" r="5.45" fill="#2ca02c"/><circle cx="301.50" cy="387.50" r="10.0" fill="#fff"/><circle cx="301.50" cy="387.50" r="5.45" fill="#2ca02c"/><circle cx="305.50" cy="201.50" r="10.0" fill="#fff"/><circle cx="305.50" cy="201.50" r="5.45" fill="#2ca02c"/><circle cx="309.50" cy="421.50" r="10.0" fill="#fff"/><circle cx="309.50" cy="421.50" r="5.45" fill="#2ca02c"/><circle cx="314.50" cy="428.50" r="10.0" fill="#fff"/><circle cx="314.50" cy="428.50" r="5.45" fill="#2ca02c"/><circle cx="318.50" cy="419.50" r="10.0" fill="#fff"/><circle cx="318.50" cy="419.50" r="5.45" fill="#2ca02c"/><circle cx="322.50" cy="437.50" r="10.0" fill="#fff"/><circle cx="322.50" cy="437.50" r="5.45" fill="#2ca02c"/><circle cx="327.50" cy="433.50" r="10.0" fill="#fff"/><circle cx="327.50" cy="433.50" r="5.45" fill="#2ca02c"/><circle cx="331.50" cy="434.50" r="10.0" fill="#fff"/><circle cx="331.50" cy="434.50" r="5.45" fill="#2ca02c"/><circle cx="335.50" cy="414.50" r="10.0" fill="#fff"/><circle cx="335.50" cy="414.50" r="5.45" fill="#2ca02c"/><circle cx="339.50" cy="428.50" r="10.0" fill="#fff"/><circle cx="339.50" cy="428.50" r="5.45" fill="#2ca02c"/><circle cx="344.50" cy="356.50" r="10.0" fill="#fff"/><circle cx="344.50" cy="356.50" r="5.45" fill="#2ca02c"/><circle cx="348.50" cy="324.50" r="10.0" fill="#fff"/><circle cx="348.50" cy="324.50" r="5.45" fill="#2ca02c"/><circle cx="352.50" cy="333.50" r="10.0" fill="#fff"/><circle cx="352.50" cy="333.50" r="5.45" fill="#2ca02c"/><circle cx="357.50" cy="343.50" r="10.0" fill="#fff"/><circle cx="357.50" cy="343.50" r="5.45" fill="#2ca02c"/><circle cx="361.50" cy="331.50" r="10.0" fill="#fff"/><circle cx="361.50" cy="331.50" r="5.45" fill="#2ca02c"/><circle cx="365.50" cy="332.50" r="10.0" fill="#fff"/><circle cx="365.50" cy="332.50" r="5.45" fill="#2ca02c"/><circle cx="369.50" cy="343.50" r="10.0" fill="#fff"/><circle cx="369.50" cy="343.50" r="5.45" fill="#2ca02c"/><circle cx="374.50" cy="344.50" r="10.0" fill="#fff"/><circle cx="374.50" cy="344.50" r="5.45" fill="#2ca02c"/><circle cx="378.50" cy="321.50" r="10.0" fill="#fff"/><circle cx="378.50" cy="321.50" r="5.45" fill="#2ca02c"/><circle cx="382.50" cy="354.50" r="10.0" fill="#fff"/><circle cx="382.50" cy="354.50" r="5.45" fill="#2ca02c"/><circle cx="386.50" cy="342.50" r="10.0" fill="#fff"/><circle cx="386.50" cy="342.50" r="5.45" fill="#2ca02c"/><circle cx="391.50" cy="340.50" r="10.0" fill="#fff"/><circle cx="391.50" cy="340.50" r="5.45" fill="#2ca02c"/><circle cx="395.50" cy="329.50" r="10.0" fill="#fff"/><circle cx="395.50" cy="329.50" r="5.45" fill="#2ca02c"/><circle cx="399.50" cy="391.50" r="10.0" fill="#fff"/><circle cx="399.50" cy="391.50" r="5.45" fill="#2ca02c"/><circle cx="404.50" cy="472.50" r="10.0" fill="#fff"/><circle cx="404.50" cy="472.50" r="5.45" fill="#2ca02c"/><circle cx="408.50" cy="276.50" r="10.0" fill="#fff"/><circle cx="408.50" cy="276.50" r="5.45" fill="#2ca02c"/><circle cx="412.50" cy="235.50" r="10.0" fill="#fff"/><circle cx="412.50" cy="235.50" r="5.45" fill="#2ca02c"/><circle cx="416.50" cy="426.50" r="10.0" fill="#fff"/><circle cx="416.50" cy="426.50" r="5.45" fill="#2ca02c"/><circle cx="421.50" cy="422.50" r="10.0" fill="#fff"/><circle cx="421.50" cy="422.50" r="5.45" fill="#2ca02c"/><circle cx="425.50" cy="387.50" r="10.0" fill="#fff"/><circle cx="425.50" cy="387.50" r="5.45" fill="#2ca02c"/><circle cx="429.50" cy="369.50" r="10.0" fill="#fff"/><circle cx="429.50" cy="369.50" r="5.45" fill="#2ca02c"/><circle cx="434.50" cy="405.50" r="10.0" fill="#fff"/><circle cx="434.50" cy="405.50" r="5.45" fill="#2ca02c"/><circle cx="438.50" cy="427.50" r="10.0" fill="#fff"/><circle cx="438.50" cy="427.50" r="5.45" fill="#2ca02c"/><circle cx="442.50" cy="412.50" r="10.0" fill="#fff"/><circle cx="442.50" cy="412.50" r="5.45" fill="#2ca02c"/><circle cx="446.50" cy="422.50" r="10.0" fill="#fff"/><circle cx="446.50" cy="422.50" r="5.45" fill="#2ca02c"/><circle cx="451.50" cy="390.50" r="10.0" fill="#fff"/><circle cx="451.50" cy="390.50" r="5.45" fill="#2ca02c"/><circle cx="455.50" cy="392.50" r="10.0" fill="#fff"/><circle cx="455.50" cy="392.50" r="5.45" fill="#2ca02c"/><circle cx="459.50" cy="419.50" r="10.0" fill="#fff"/><circle cx="459.50" cy="419.50" r="5.45" fill="#2ca02c"/><circle cx="464.50" cy="420.50" r="10.0" fill="#fff"/><circle cx="464.50" cy="420.50" r="5.45" fill="#2ca02c"/><circle cx="468.50" cy="427.50" r="10.0" fill="#fff"/><circle cx="468.50" cy="427.50" r="5.45" fill="#2ca02c"/><circle cx="472.50" cy="409.50" r="10.0" fill="#fff"/><circle cx="472.50" cy="409.50" r="5.45" fill="#2ca02c"/><circle cx="476.50" cy="439.50" r="10.0" fill="#fff"/><circle cx="476.50" cy="439.50" r="5.45" fill="#2ca02c"/><circle cx="481.50" cy="439.50" r="10.0" fill="#fff"/><circle cx="481.50" cy="439.50" r="5.45" fill="#2ca02c"/><circle cx="485.50" cy="418.50" r="10.0" fill="#fff"/><circle cx="485.50" cy="418.50" r="5.45" fill="#2ca02c"/><circle cx="489.50" cy="410.50" r="10.0" fill="#fff"/><circle cx="489.50" cy="410.50" r="5.45" fill="#2ca02c"/><circle cx="493.50" cy="422.50" r="10.0" fill="#fff"/><circle cx="493.50" cy="422.50" r="5.45" fill="#2ca02c"/><circle cx="498.50" cy="409.50" r="10.0" fill="#fff"/><circle cx="498.50" cy="409.50" r="5.45" fill="#2ca02c"/><circle cx="502.50" cy="432.50" r="10.0" fill="#fff"/><circle cx="502.50" cy="432.50" r="5.45" fill="#2ca02c"/><circle cx="506.50" cy="419.50" r="10.0" fill="#fff"/><circle cx="506.50" cy="419.50" r="5.45" fill="#2ca02c"/><circle cx="511.50" cy="420.50" r="10.0" fill="#fff"/><circle cx="511.50" cy="420.50" r="5.45" fill="#2ca02c"/><circle cx="515.50" cy="418.50" r="10.0" fill="#fff"/><circle cx="515.50" cy="418.50" r="5.45" fill="#2ca02c"/><circle cx="519.50" cy="413.50" r="10.0" fill="#fff"/><circle cx="519.50" cy="413.50" r="5.45" fill="#2ca02c"/><circle cx="523.50" cy="415.50" r="10.0" fill="#fff"/><circle cx="523.50" cy="415.50" r="5.45" fill="#2ca02c"/><circle cx="528.50" cy="395.50" r="10.0" fill="#fff"/><circle cx="528.50" cy="395.50" r="5.45" fill="#2ca02c"/><circle cx="532.50" cy="408.50" r="10.0" fill="#fff"/><circle cx="532.50" cy="408.50" r="5.45" fill="#2ca02c"/><circle cx="536.50" cy="438.50" r="10.0" fill="#fff"/><circle cx="536.50" cy="438.50" r="5.45" fill="#2ca02c"/><circle cx="541.50" cy="423.50" r="10.0" fill="#fff"/><circle cx="541.50" cy="423.50" r="5.45" fill="#2ca02c"/><circle cx="545.50" cy="413.50" r="10.0" fill="#fff"/><circle cx="545.50" cy="413.50" r="5.45" fill="#2ca02c"/><circle cx="549.50" cy="418.50" r="10.0" fill="#fff"/><circle cx="549.50" cy="418.50" r="5.45" fill="#2ca02c"/><circle cx="553.50" cy="421.50" r="10.0" fill="#fff"/><circle cx="553.50" cy="421.50" r="5.45" fill="#2ca02c"/><circle cx="558.50" cy="400.50" r="10.0" fill="#fff"/><circle cx="558.50" cy="400.50" r="5.45" fill="#2ca02c"/><circle cx="562.50" cy="441.50" r="10.0" fill="#fff"/><circle cx="562.50" cy="441.50" r="5.45" fill="#2ca02c"/><circle cx="566.50" cy="405.50" r="10.0" fill="#fff"/><circle cx="566.50" cy="405.50" r="5.45" fill="#2ca02c"/><circle cx="571.50" cy="462.50" r="10.0" fill="#fff"/><circle cx="571.50" cy="462.50" r="5.45" fill="#2ca02c"/><circle cx="575.50" cy="394.50" r="10.0" fill="#fff"/><circle cx="575.50" cy="394.50" r="5.45" fill="#2ca02c"/><circle cx="579.50" cy="432.50" r="10.0" fill="#fff"/><circle cx="579.50" cy="432.50" r="5.45" fill="#2ca02c"/><circle cx="583.50" cy="401.50" r="10.0" fill="#fff"/><circle cx="583.50" cy="401.50" r="5.45" fill="#2ca02c"/><circle cx="588.50" cy="412.50" r="10.0" fill="#fff"/><circle cx="588.50" cy="412.50" r="5.45" fill="#2ca02c"/><circle cx="592.50" cy="395.50" r="10.0" fill="#fff"/><circle cx="592.50" cy="395.50" r="5.45" fill="#2ca02c"/><circle cx="596.50" cy="465.50" r="10.0" fill="#fff"/><circle cx="596.50" cy="465.50" r="5.45" fill="#2ca02c"/><circle cx="600.50" cy="445.50" r="10.0" fill="#fff"/><circle cx="600.50" cy="445.50" r="5.45" fill="#2ca02c"/><circle cx="605.50" cy="411.50" r="10.0" fill="#fff"/><circle cx="605.50" cy="411.50" r="5.45" fill="#2ca02c"/><circle cx="609.50" cy="415.50" r="10.0" fill="#fff"/><circle cx="609.50" cy="415.50" r="5.45" fill="#2ca02c"/><circle cx="613.50" cy="420.50" r="10.0" fill="#fff"/><circle cx="613.50" cy="420.50" r="5.45" fill="#2ca02c"/><circle cx="618.50" cy="418.50" r="10.0" fill="#fff"/><circle cx="618.50" cy="418.50" r="5.45" fill="#2ca02c"/><circle cx="622.50" cy="466.50" r="10.0" fill="#fff"/><circle cx="622.50" cy="466.50" r="5.45" fill="#2ca02c"/><circle cx="626.50" cy="445.50" r="10.0" fill="#fff"/><circle cx="626.50" cy="445.50" r="5.45" fill="#2ca02c"/><circle cx="630.50" cy="420.50" r="10.0" fill="#fff"/><circle cx="630.50" cy="420.50" r="5.45" fill="#2ca02c"/><circle cx="635.50" cy="410.50" r="10.0" fill="#fff"/><circle cx="635.50" cy="410.50" r="5.45" fill="#2ca02c"/><circle cx="639.50" cy="418.50" r="10.0" fill="#fff"/><circle cx="639.50" cy="418.50" r="5.45" fill="#2ca02c"/><circle cx="643.50" cy="406.50" r="10.0" fill="#fff"/><circle cx="643.50" cy="406.50" r="5.45" fill="#2ca02c"/><circle cx="648.50" cy="455.50" r="10.0" fill="#fff"/><circle cx="648.50" cy="455.50" r="5.45" fill="#2ca02c"/><circle cx="652.50" cy="428.50" r="10.0" fill="#fff"/><circle cx="652.50" cy="428.50" r="5.45" fill="#2ca02c"/><circle cx="656.50" cy="392.50" r="10.0" fill="#fff"/><circle cx="656.50" cy="392.50" r="5.45" fill="#2ca02c"/><circle cx="660.50" cy="460.50" r="10.0" fill="#fff"/><circle cx="660.50" cy="460.50" r="5.45" fill="#2ca02c"/><circle cx="665.50" cy="421.50" r="10.0" fill="#fff"/><circle cx="665.50" cy="421.50" r="5.45" fill="#2ca02c"/><circle cx="669.50" cy="448.50" r="10.0" fill="#fff"/><circle cx="669.50" cy="448.50" r="5.45" fill="#2ca02c"/><circle cx="673.50" cy="437.50" r="10.0" fill="#fff"/><circle cx="673.50" cy="437.50" r="5.45" fill="#2ca02c"/><circle cx="678.50" cy="476.50" r="10.0" fill="#fff"/><circle cx="678.50" cy="476.50" r="5.45" fill="#2ca02c"/><circle cx="682.50" cy="549.50" r="10.0" fill="#fff"/><circle cx="682.50" cy="549.50" r="5.45" fill="#2ca02c"/><circle cx="686.50" cy="438.50" r="10.0" fill="#fff"/><circle cx="686.50" cy="438.50" r="5.45" fill="#2ca02c"/><circle cx="690.50" cy="399.50" r="10.0" fill="#fff"/><circle cx="690.50" cy="399.50" r="5.45" fill="#2ca02c"/><circle cx="695.50" cy="458.50" r="10.0" fill="#fff"/><circle cx="695.50" cy="458.50" r="5.45" fill="#2ca02c"/><circle cx="699.50" cy="443.50" r="10.0" fill="#fff"/><circle cx="699.50" cy="443.50" r="5.45" fill="#2ca02c"/><circle cx="703.50" cy="428.50" r="10.0" fill="#fff"/><circle cx="703.50" cy="428.50" r="5.45" fill="#2ca02c"/><circle cx="707.50" cy="418.50" r="10.0" fill="#fff"/><circle cx="707.50" cy="418.50" r="5.45" fill="#2ca02c"/><circle cx="712.50" cy="444.50" r="10.0" fill="#fff"/><circle cx="712.50" cy="444.50" r="5.45" fill="#2ca02c"/><circle cx="716.50" cy="444.50" r="10.0" fill="#fff"/><circle cx="716.50" cy="444.50" r="5.45" fill="#2ca02c"/><circle cx="720.50" cy="448.50" r="10.0" fill="#fff"/><circle cx="720.50" cy="448.50" r="5.45" fill="#2ca02c"/><circle cx="725.50" cy="470.50" r="10.0" fill="#fff"/><circle cx="725.50" cy="470.50" r="5.45" fill="#2ca02c"/><circle cx="729.50" cy="478.50" r="10.0" fill="#fff"/><circle cx="729.50" cy="478.50" r="5.45" fill="#2ca02c"/><circle cx="733.50" cy="385.50" r="10.0" fill="#fff"/><circle cx="733.50" cy="385.50" r="5.45" fill="#2ca02c"/><circle cx="737.50" cy="474.50" r="10.0" fill="#fff"/><circle cx="737.50" cy="474.50" r="5.45" fill="#2ca02c"/><circle cx="742.50" cy="402.50" r="10.0" fill="#fff"/><circle cx="742.50" cy="402.50" r="5.45" fill="#2ca02c"/><circle cx="746.50" cy="429.50" r="10.0" fill="#fff"/><circle cx="746.50" cy="429.50" r="5.45" fill="#2ca02c"/><circle cx="750.50" cy="412.50" r="10.0" fill="#fff"/><circle cx="750.50" cy="412.50" r="5.45" fill="#2ca02c"/><circle cx="755.50" cy="506.50" r="10.0" fill="#fff"/><circle cx="755.50" cy="506.50" r="5.45" fill="#2ca02c"/><circle cx="759.50" cy="394.50" r="10.0" fill="#fff"/><circle cx="759.50" cy="394.50" r="5.45" fill="#2ca02c"/><circle cx="763.50" cy="481.50" r="10.0" fill="#fff"/><circle cx="763.50" cy="481.50" r="5.45" fill="#2ca02c"/><circle cx="767.50" cy="428.50" r="10.0" fill="#fff"/><circle cx="767.50" cy="428.50" r="5.45" fill="#2ca02c"/><circle cx="772.50" cy="396.50" r="10.0" fill="#fff"/><circle cx="772.50" cy="396.50" r="5.45" fill="#2ca02c"/><circle cx="776.50" cy="448.50" r="10.0" fill="#fff"/><circle cx="776.50" cy="448.50" r="5.45" fill="#2ca02c"/><circle cx="780.50" cy="415.50" r="10.0" fill="#fff"/><circle cx="780.50" cy="415.50" r="5.45" fill="#2ca02c"/><circle cx="785.50" cy="411.50" r="10.0" fill="#fff"/><circle cx="785.50" cy="411.50" r="5.45" fill="#2ca02c"/><circle cx="789.50" cy="428.50" r="10.0" fill="#fff"/><circle cx="789.50" cy="428.50" r="5.45" fill="#2ca02c"/><circle cx="793.50" cy="474.50" r="10.0" fill="#fff"/><circle cx="793.50" cy="474.50" r="5.45" fill="#2ca02c"/><circle cx="797.50" cy="456.50" r="10.0" fill="#fff"/><circle cx="797.50" cy="456.50" r="5.45" fill="#2ca02c"/><circle cx="802.50" cy="450.50" r="10.0" fill="#fff"/><circle cx="802.50" cy="450.50" r="5.45" fill="#2ca02c"/><circle cx="806.50" cy="444.50" r="10.0" fill="#fff"/><circle cx="806.50" cy="444.50" r="5.45" fill="#2ca02c"/><circle cx="810.50" cy="472.50" r="10.0" fill="#fff"/><circle cx="810.50" cy="472.50" r="5.45" fill="#2ca02c"/><circle cx="814.50" cy="475.50" r="10.0" fill="#fff"/><circle cx="814.50" cy="475.50" r="5.45" fill="#2ca02c"/><circle cx="819.50" cy="614.50" r="10.0" fill="#fff"/><circle cx="819.50" cy="614.50" r="5.45" fill="#2ca02c"/><circle cx="823.50" cy="440.50" r="10.0" fill="#fff"/><circle cx="823.50" cy="440.50" r="5.45" fill="#2ca02c"/><circle cx="827.50" cy="506.50" r="10.0" fill="#fff"/><circle cx="827.50" cy="506.50" r="5.45" fill="#2ca02c"/><circle cx="832.50" cy="444.50" r="10.0" fill="#fff"/><circle cx="832.50" cy="444.50" r="5.45" fill="#2ca02c"/><circle cx="836.50" cy="425.50" r="10.0" fill="#fff"/><circle cx="836.50" cy="425.50" r="5.45" fill="#2ca02c"/><circle cx="840.50" cy="491.50" r="10.0" fill="#fff"/><circle cx="840.50" cy="491.50" r="5.45" fill="#2ca02c"/><circle cx="844.50" cy="582.50" r="10.0" fill="#fff"/><circle cx="844.50" cy="582.50" r="5.45" fill="#2ca02c"/><circle cx="849.50" cy="448.50" r="10.0" fill="#fff"/><circle cx="849.50" cy="448.50" r="5.45" fill="#2ca02c"/><circle cx="853.50" cy="471.50" r="10.0" fill="#fff"/><circle cx="853.50" cy="471.50" r="5.45" fill="#2ca02c"/><circle cx="857.50" cy="448.50" r="10.0" fill="#fff"/><circle cx="857.50" cy="448.50" r="5.45" fill="#2ca02c"/><circle cx="862.50" cy="445.50" r="10.0" fill="#fff"/><circle cx="862.50" cy="445.50" r="5.45" fill="#2ca02c"/><circle cx="866.50" cy="666.50" r="10.0" fill="#fff"/><circle cx="866.50" cy="666.50" r="5.45" fill="#2ca02c"/><circle cx="870.50" cy="490.50" r="10.0" fill="#fff"/><circle cx="870.50" cy="490.50" r="5.45" fill="#2ca02c"/><circle cx="874.50" cy="599.50" r="10.0" fill="#fff"/><circle cx="874.50" cy="599.50" r="5.45" fill="#2ca02c"/><circle cx="879.50" cy="484.50" r="10.0" fill="#fff"/><circle cx="879.50" cy="484.50" r="5.45" fill="#2ca02c"/><circle cx="883.50" cy="486.50" r="10.0" fill="#fff"/><circle cx="883.50" cy="486.50" r="5.45" fill="#2ca02c"/><circle cx="887.50" cy="495.50" r="10.0" fill="#fff"/><circle cx="887.50" cy="495.50" r="5.45" fill="#2ca02c"/><circle cx="892.50" cy="441.50" r="10.0" fill="#fff"/><circle cx="892.50" cy="441.50" r="5.45" fill="#2ca02c"/><circle cx="896.50" cy="476.50" r="10.0" fill="#fff"/><circle cx="896.50" cy="476.50" r="5.45" fill="#2ca02c"/><circle cx="900.50" cy="567.50" r="10.0" fill="#fff"/><circle cx="900.50" cy="567.50" r="5.45" fill="#2ca02c"/><circle cx="904.50" cy="510.50" r="10.0" fill="#fff"/><circle cx="904.50" cy="510.50" r="5.45" fill="#2ca02c"/><circle cx="909.50" cy="630.50" r="10.0" fill="#fff"/><circle cx="909.50" cy="630.50" r="5.45" fill="#2ca02c"/><circle cx="913.50" cy="430.50" r="10.0" fill="#fff"/><circle cx="913.50" cy="430.50" r="5.45" fill="#2ca02c"/><circle cx="917.50" cy="425.50" r="10.0" fill="#fff"/><circle cx="917.50" cy="425.50" r="5.45" fill="#2ca02c"/><circle cx="921.50" cy="412.50" r="10.0" fill="#fff"/><circle cx="921.50" cy="412.50" r="5.45" fill="#2ca02c"/><circle cx="926.50" cy="585.50" r="10.0" fill="#fff"/><circle cx="926.50" cy="585.50" r="5.45" fill="#2ca02c"/><circle cx="930.50" cy="441.50" r="10.0" fill="#fff"/><circle cx="930.50" cy="441.50" r="5.45" fill="#2ca02c"/><circle cx="934.50" cy="642.50" r="10.0" fill="#fff"/><circle cx="934.50" cy="642.50" r="5.45" fill="#2ca02c"/><circle cx="939.50" cy="471.50" r="10.0" fill="#fff"/><circle cx="939.50" cy="471.50" r="5.45" fill="#2ca02c"/><circle cx="943.50" cy="434.50" r="10.0" fill="#fff"/><circle cx="943.50" cy="434.50" r="5.45" fill="#2ca02c"/><circle cx="947.50" cy="450.50" r="10.0" fill="#fff"/><circle cx="947.50" cy="450.50" r="5.45" fill="#2ca02c"/><circle cx="951.50" cy="533.50" r="10.0" fill="#fff"/><circle cx="951.50" cy="533.50" r="5.45" fill="#2ca02c"/><circle cx="956.50" cy="576.50" r="10.0" fill="#fff"/><circle cx="956.50" cy="576.50" r="5.45" fill="#2ca02c"/><circle cx="960.50" cy="449.50" r="10.0" fill="#fff"/><circle cx="960.50" cy="449.50" r="5.45" fill="#2ca02c"/><circle cx="964.50" cy="607.50" r="10.0" fill="#fff"/><circle cx="964.50" cy="607.50" r="5.45" fill="#2ca02c"/><circle cx="969.50" cy="411.50" r="10.0" fill="#fff"/><circle cx="969.50" cy="411.50" r="5.45" fill="#2ca02c"/><circle cx="973.50" cy="445.50" r="10.0" fill="#fff"/><circle cx="973.50" cy="445.50" r="5.45" fill="#2ca02c"/><circle cx="977.50" cy="632.50" r="10.0" fill="#fff"/><circle cx="977.50" cy="632.50" r="5.45" fill="#2ca02c"/><circle cx="981.50" cy="446.50" r="10.0" fill="#fff"/><circle cx="981.50" cy="446.50" r="5.45" fill="#2ca02c"/><circle cx="986.50" cy="572.50" r="10.0" fill="#fff"/><circle cx="986.50" cy="572.50" r="5.45" fill="#2ca02c"/><circle cx="990.50" cy="495.50" r="10.0" fill="#fff"/><circle cx="990.50" cy="495.50" r="5.45" fill="#2ca02c"/><circle cx="994.50" cy="568.50" r="10.0" fill="#fff"/><circle cx="994.50" cy="568.50" r="5.45" fill="#2ca02c"/><circle cx="999.50" cy="448.50" r="10.0" fill="#fff"/><circle cx="999.50" cy="448.50" r="5.45" fill="#2ca02c"/><circle cx="1003.50" cy="444.50" r="10.0" fill="#fff"/><circle cx="1003.50" cy="444.50" r="5.45" fill="#2ca02c"/><circle cx="1007.50" cy="407.50" r="10.0" fill="#fff"/><circle cx="1007.50" cy="407.50" r="5.45" fill="#2ca02c"/><circle cx="1011.50" cy="545.50" r="10.0" fill="#fff"/><circle cx="1011.50" cy="545.50" r="5.45" fill="#2ca02c"/><circle cx="1016.50" cy="643.50" r="10.0" fill="#fff"/><circle cx="1016.50" cy="643.50" r="5.45" fill="#2ca02c"/><circle cx="1020.50" cy="551.50" r="10.0" fill="#fff"/><circle cx="1020.50" cy="551.50" r="5.45" fill="#2ca02c"/><circle cx="1024.50" cy="486.50" r="10.0" fill="#fff"/><circle cx="1024.50" cy="486.50" r="5.45" fill="#2ca02c"/><circle cx="1028.50" cy="474.50" r="10.0" fill="#fff"/><circle cx="1028.50" cy="474.50" r="5.45" fill="#2ca02c"/><circle cx="1033.50" cy="432.50" r="10.0" fill="#fff"/><circle cx="1033.50" cy="432.50" r="5.45" fill="#2ca02c"/><circle cx="1037.50" cy="523.50" r="10.0" fill="#fff"/><circle cx="1037.50" cy="523.50" r="5.45" fill="#2ca02c"/><circle cx="1041.50" cy="532.50" r="10.0" fill="#fff"/><circle cx="1041.50" cy="532.50" r="5.45" fill="#2ca02c"/><circle cx="1046.50" cy="469.50" r="10.0" fill="#fff"/><circle cx="1046.50" cy="469.50" r="5.45" fill="#2ca02c"/><circle cx="1050.50" cy="431.50" r="10.0" fill="#fff"/><circle cx="1050.50" cy="431.50" r="5.45" fill="#2ca02c"/><circle cx="1054.50" cy="437.50" r="10.0" fill="#fff"/><circle cx="1054.50" cy="437.50" r="5.45" fill="#2ca02c"/><circle cx="1058.50" cy="444.50" r="10.0" fill="#fff"/><circle cx="1058.50" cy="444.50" r="5.45" fill="#2ca02c"/><circle cx="1063.50" cy="467.50" r="10.0" fill="#fff"/><circle cx="1063.50" cy="467.50" r="5.45" fill="#2ca02c"/><circle cx="1067.50" cy="730.50" r="10.0" fill="#fff"/><circle cx="1067.50" cy="730.50" r="5.45" fill="#2ca02c"/><circle cx="1071.50" cy="491.50" r="10.0" fill="#fff"/><circle cx="1071.50" cy="491.50" r="5.45" fill="#2ca02c"/><circle cx="1076.50" cy="501.50" r="10.0" fill="#fff"/><circle cx="1076.50" cy="501.50" r="5.45" fill="#2ca02c"/><circle cx="1080.50" cy="487.50" r="10.0" fill="#fff"/><circle cx="1080.50" cy="487.50" r="5.45" fill="#2ca02c"/><circle cx="1084.50" cy="430.50" r="10.0" fill="#fff"/><circle cx="1084.50" cy="430.50" r="5.45" fill="#2ca02c"/><circle cx="1088.50" cy="469.50" r="10.0" fill="#fff"/><circle cx="1088.50" cy="469.50" r="5.45" fill="#2ca02c"/><circle cx="1093.50" cy="619.50" r="10.0" fill="#fff"/><circle cx="1093.50" cy="619.50" r="5.45" fill="#2ca02c"/><circle cx="1097.50" cy="509.50" r="10.0" fill="#fff"/><circle cx="1097.50" cy="509.50" r="5.45" fill="#2ca02c"/><circle cx="1101.50" cy="450.50" r="10.0" fill="#fff"/><circle cx="1101.50" cy="450.50" r="5.45" fill="#2ca02c"/><circle cx="1106.50" cy="544.50" r="10.0" fill="#fff"/><circle cx="1106.50" cy="544.50" r="5.45" fill="#2ca02c"/><circle cx="1110.50" cy="431.50" r="10.0" fill="#fff"/><circle cx="1110.50" cy="431.50" r="5.45" fill="#2ca02c"/><circle cx="1114.50" cy="417.50" r="10.0" fill="#fff"/><circle cx="1114.50" cy="417.50" r="5.45" fill="#2ca02c"/><circle cx="1118.50" cy="705.50" r="10.0" fill="#fff"/><circle cx="1118.50" cy="705.50" r="5.45" fill="#2ca02c"/><circle cx="1123.50" cy="582.50" r="10.0" fill="#fff"/><circle cx="1123.50" cy="582.50" r="5.45" fill="#2ca02c"/><circle cx="1127.50" cy="495.50" r="10.0" fill="#fff"/><circle cx="1127.50" cy="495.50" r="5.45" fill="#2ca02c"/><circle cx="1131.50" cy="391.50" r="10.0" fill="#fff"/><circle cx="1131.50" cy="391.50" r="5.45" fill="#2ca02c"/><circle cx="1135.50" cy="542.50" r="10.0" fill="#fff"/><circle cx="1135.50" cy="542.50" r="5.45" fill="#2ca02c"/><path d="M95.5 57.5V838.5H1165.5 M95.5 838.5h7 M1165.5 838.5h-7 M95.5 751.5h7 M1165.5 751.5h-7 M95.5 664.5h7 M1165.5 664.5h-7 M95.5 578.5h7 M1165.5 578.5h-7 M95.5 491.5h7 M1165.5 491.5h-7 M95.5 404.5h7 M1165.5 404.5h-7 M95.5 317.5h7 M1165.5 317.5h-7 M95.5 231.5h7 M1165.5 231.5h-7 M95.5 144.5h7 M1165.5 144.5h-7 M95.5 57.5h7 M1165.5 57.5h-7 M95.5 838.5v-7 M95.5 57.5v7 M309.5 838.5v-7 M309.5 57.5v7 M523.5 838.5v-7 M523.5 57.5v7 M737.5 838.5v-7 M737.5 57.5v7 M951.5 838.5v-7 M951.5 57.5v7 M1165.5 838.5v-7 M1165.5 57.5v7" stroke="#000" stroke-width="1" fill="none"/><text x="76.78" y="844.5" font-size="16.3" textLength="9.36" lengthAdjust="spacingAndGlyphs" style="white-space:pre">0</text><text x="54.93" y="757.5" font-size="16.3" textLength="31.20" lengthAdjust="spacingAndGlyphs" style="white-space:pre">200</text><text x="55.05" y="670.5" font-size="16.3" textLength="31.08" lengthAdjust="spacingAndGlyphs" style="white-space:pre">400</text><text x="55.05" y="584.5" font-size="16.3" textLength="31.08" lengthAdjust="spacingAndGlyphs" style="white-space:pre">600</text><text x="55.05" y="497.5" font-size="16.3" textLength="31.08" lengthAdjust="spacingAndGlyphs" style="white-space:pre">800</text><text x="44.99" y="410.5" font-size="16.3" textLength="41.22" lengthAdjust="spacingAndGlyphs" style="white-space:pre">1000</text><text x="44.99" y="323.5" font-size="16.3" textLength="41.22" lengthAdjust="spacingAndGlyphs" style="white-space:pre">1200</text><text x="44.99" y="237.5" font-size="16.3" textLength="41.22" lengthAdjust="spacingAndGlyphs" style="white-space:pre">1400</text><text x="44.99" y="150.5" font-size="16.3" textLength="41.22" lengthAdjust="spacingAndGlyphs" style="white-space:pre">1600</text><text x="44.99" y="63.5" font-size="16.3" textLength="41.22" lengthAdjust="spacingAndGlyphs" style="white-space:pre">1800</text><text x="93.39" y="863.9" font-size="16.3" textLength="9.18" lengthAdjust="spacingAndGlyphs" style="white-space:pre">0</text><text x="301.98" y="863.9" font-size="16.3" textLength="21.15" lengthAdjust="spacingAndGlyphs" style="white-space:pre">50</text><text x="511.13" y="863.9" font-size="16.3" textLength="30.94" lengthAdjust="spacingAndGlyphs" style="white-space:pre">100</text><text x="725.14" y="863.9" font-size="16.3" textLength="30.84" lengthAdjust="spacingAndGlyphs" style="white-space:pre">150</text><text x="938.89" y="863.9" font-size="16.3" textLength="31.10" lengthAdjust="spacingAndGlyphs" style="white-space:pre">200</text><text x="1152.99" y="863.9" font-size="16.3" textLength="30.99" lengthAdjust="spacingAndGlyphs" style="white-space:pre">250</text><text x="597.55" y="891.9" font-size="16.3" textLength="65.82" lengthAdjust="spacingAndGlyphs" style="white-space:pre">Time (s)</text><text transform="translate(24.2 478.88) rotate(-90)" x="0" y="0" font-size="16.3" textLength="61.50" lengthAdjust="spacingAndGlyphs">Packets</text><text x="-1.13" y="35.0" font-size="16.3" textLength="410.89" lengthAdjust="spacingAndGlyphs" style="white-space:pre">tor0/searchlight/corpus/tiered/ipsec/sts/experiment</text><text x="410.30" y="39.0" font-size="12.0" textLength="7.59" lengthAdjust="spacingAndGlyphs" style="white-space:pre">3</text><text x="417.50" y="35.0" font-size="16.3" textLength="41.87" lengthAdjust="spacingAndGlyphs" style="white-space:pre">/eth1</text><text x="460.6" y="39.0" font-size="12.5">i</text><text x="463.96" y="35.0" font-size="16.3" textLength="732.37" lengthAdjust="spacingAndGlyphs" style="white-space:pre">nterface/exp-b-576-html5-http1c/1648648903-c1.ipsecsts.tiered.pharos-exp-b-576-html5-h</text><text x="1196.3" y="35" font-size="16.3">t</text><text x="1056.63" y="79.8" font-size="16.3" textLength="30.31" lengthAdjust="spacingAndGlyphs" style="white-space:pre">TCP</text><path d="M1097.3 74.4H1111.2M1131.6 74.4H1145.5" stroke="#0060ad" stroke-width="2"/><circle cx="1121.2" cy="74.4" r="5.45" fill="#0060ad"/><text x="1052.71" y="98.8" font-size="16.3" textLength="34.20" lengthAdjust="spacingAndGlyphs" style="white-space:pre">UDP</text><path d="M1097.3 93.4H1111.2M1131.6 93.4H1145.5" stroke="#ff7f0e" stroke-width="2"/><circle cx="1121.2" cy="93.4" r="5.45" fill="#ff7f0e"/><text x="968.46" y="117.9" font-size="16.3" textLength="118.70" lengthAdjust="spacingAndGlyphs" style="white-space:pre">IP (!TCP  !UDP)</text><path d="M1097.3 112.3H1111.2M1131.6 112.3H1145.5" stroke="#2ca02c" stroke-width="2"/><circle cx="1121.2" cy="112.3" r="5.45" fill="#2ca02c"/></svg></body></html>
